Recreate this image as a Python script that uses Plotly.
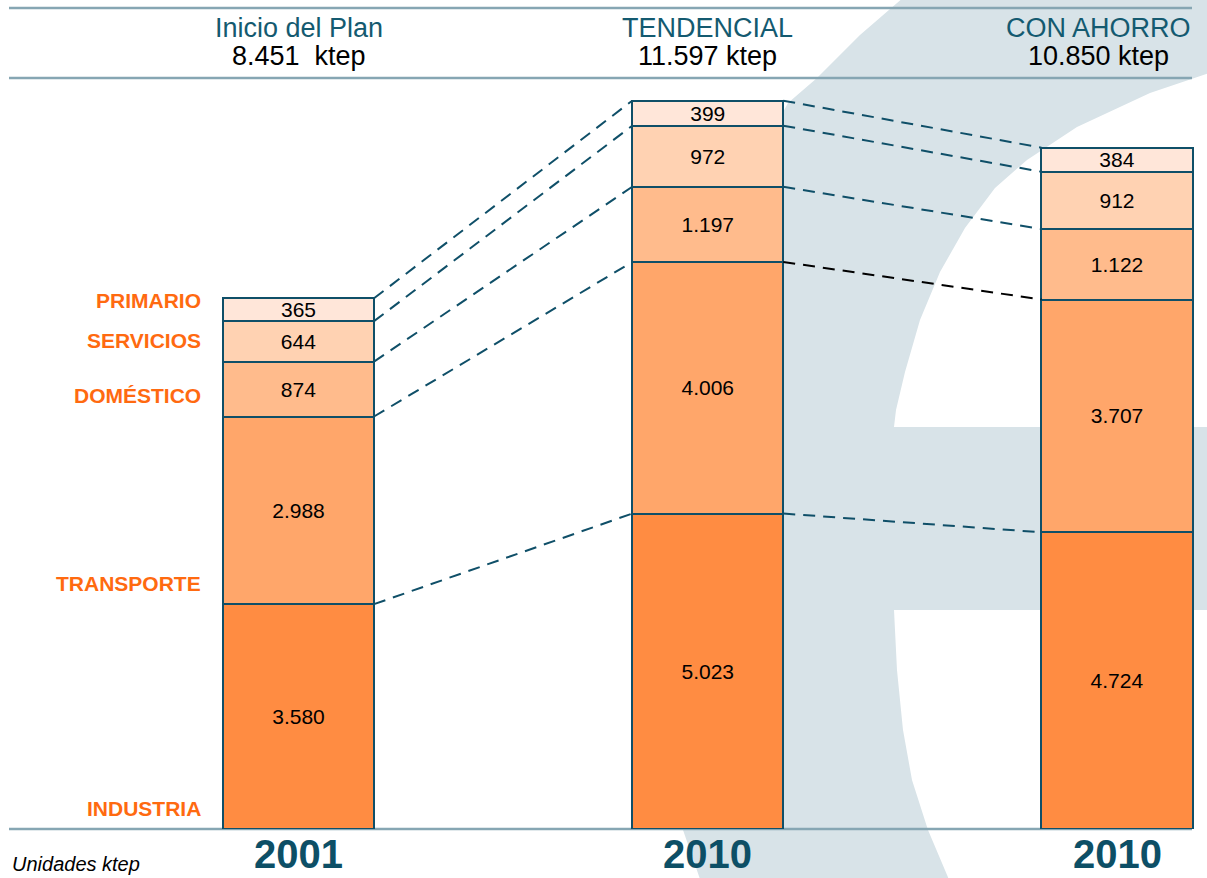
import plotly.graph_objects as go

# ---------------- data ----------------
scenarios = ["Inicio del Plan", "TENDENCIAL", "CON AHORRO"]
years = ["2001", "2010", "2010"]
totals = [8451, 11597, 10850]
sectors = ["INDUSTRIA", "TRANSPORTE", "DOMÉSTICO", "SERVICIOS", "PRIMARIO"]
industria = [3580, 5023, 4724]
transporte = [2988, 4006, 3707]
domestico = [874, 1197, 1122]
servicios = [644, 972, 912]
primario = [365, 399, 384]
units_note = "Unidades ktep"

series = [industria, transporte, domestico, servicios, primario]
colors = ["#FF8C42", "#FFA66A", "#FFBB8C", "#FFD2B2", "#FFE6D9"]

FONT = "Liberation Sans, Arial, sans-serif"
TEAL = "#0f4f68"
W = 0.369                      # bar width (x units)
xs = list(range(len(scenarios)))

FIG_W, FIG_H = 1207, 878
MB = 49
PLOT_H = FIG_H - MB


def fmt(v):
    return f"{v:,}".replace(",", ".")


fig = go.Figure()

# stacked bars
for name, vals, col in zip(sectors, series, colors):
    fig.add_trace(go.Bar(
        x=xs, y=vals, name=name, width=W,
        marker=dict(color=col, line=dict(color=TEAL, width=2)),
        texttemplate="%{y:,.0f}", textposition="inside",
        insidetextanchor="middle", textangle=0,
        textfont=dict(family=FONT, size=21, color="black"),
        showlegend=False, hoverinfo="skip",
    ))

# cumulative tops for connectors
cum = []
run = [0] * len(xs)
for vals in series:
    run = [a + b for a, b in zip(run, vals)]
    cum.append(list(run))

for k in range(len(series)):
    for i in range(len(xs) - 1):
        col = "black" if (k == 1 and i == 1) else TEAL
        fig.add_trace(go.Scatter(
            x=[xs[i] + W / 2, xs[i + 1] - W / 2],
            y=[cum[k][i], cum[k][i + 1]],
            mode="lines", line=dict(color=col, width=2, dash="12px,8px"),
            showlegend=False, hoverinfo="skip",
        ))

# ---------------- decoration ----------------
def px2paper(px, py):
    return px / FIG_W, 1 - py / PLOT_H


outline = [
    (904, -3), (1212, -3), (1212, 72),
    (1150, 93), (1077, 127), (1027, 160), (995, 188), (965, 228),
    (940, 272), (920, 320), (905, 372), (896, 410), (894, 427),
    (1212, 427), (1212, 610), (894, 610),
    (897, 670), (903, 730), (912, 780), (928, 830), (950, 882),
    (701, 882), (683, 830), (674, 760), (671, 680), (673, 600),
    (680, 500), (692, 400), (710, 300), (735, 210), (762, 150),
    (788, 103), (817, 78), (860, 35),
]
pts = [px2paper(a, b) for a, b in outline]
path = "M " + " L ".join(f"{a:.5f},{b:.5f}" for a, b in pts) + " Z"

shapes = [dict(type="path", path=path, xref="paper", yref="paper",
               fillcolor="#d8e3e8", line=dict(width=0), layer="below")]

for py in (8, 78, 829):
    x0, y0 = px2paper(9, py)
    x1, _ = px2paper(1192, py)
    shapes.append(dict(type="line", xref="paper", yref="paper",
                       x0=x0, x1=x1, y0=y0, y1=y0,
                       line=dict(color="#86a6b3", width=2.5), layer="below"))

annotations = []
hdr_shift = [0, 0, -19]
for i, (s, t) in enumerate(zip(scenarios, totals)):
    sep = "  " if i == 0 else " "
    annotations.append(dict(
        x=xs[i], y=px2paper(0, 28)[1], xref="x", yref="paper",
        text=s, showarrow=False, xanchor="center", yanchor="middle",
        xshift=hdr_shift[i],
        font=dict(family=FONT, size=27, color="#145a70")))
    annotations.append(dict(
        x=xs[i], y=px2paper(0, 56)[1], xref="x", yref="paper",
        text=f"{fmt(t)}{sep}ktep", showarrow=False, xanchor="center",
        yanchor="middle", xshift=hdr_shift[i],
        font=dict(family=FONT, size=27, color="black")))
    annotations.append(dict(
        x=xs[i], y=px2paper(0, 854)[1], xref="x", yref="paper",
        text=f"<b>{years[i]}</b>", showarrow=False, xanchor="center",
        yanchor="middle",
        font=dict(family=FONT, size=40, color="#0d4f66")))

# sector labels beside the first bar
base = 0
for name, vals in zip(sectors, series):
    annotations.append(dict(
        x=xs[0] - W / 2, y=base, xref="x", yref="y",
        text=f"<b>{name}</b>", showarrow=False, xanchor="right",
        yanchor="middle", xshift=-20, yshift=21,
        font=dict(family=FONT, size=21, color="#FF6A10")))
    base += vals[0]

annotations.append(dict(
    x=px2paper(10, 0)[0], y=px2paper(0, 864)[1], xref="paper", yref="paper",
    text=f"<i>{units_note}</i>", showarrow=False, xanchor="left",
    yanchor="middle", font=dict(family=FONT, size=20, color="black")))

fig.update_layout(
    width=FIG_W, height=FIG_H,
    margin=dict(l=0, r=0, t=0, b=MB, pad=0),
    paper_bgcolor="white", plot_bgcolor="rgba(0,0,0,0)",
    barmode="stack", separators=",.",
    uniformtext=dict(minsize=21, mode="show"),
    xaxis=dict(range=[-298.5 / 409.25, (FIG_W - 298.5) / 409.25],
               visible=False, fixedrange=True),
    yaxis=dict(range=[0, 13200], visible=False, fixedrange=True),
    shapes=shapes, annotations=annotations,
    showlegend=False,
)

fig.write_html(
    "out.html",
    config={"displayModeBar": False, "staticPlot": True},
    post_script="document.body.style.margin='0px';"
                "document.body.style.overflow='hidden';",
)
